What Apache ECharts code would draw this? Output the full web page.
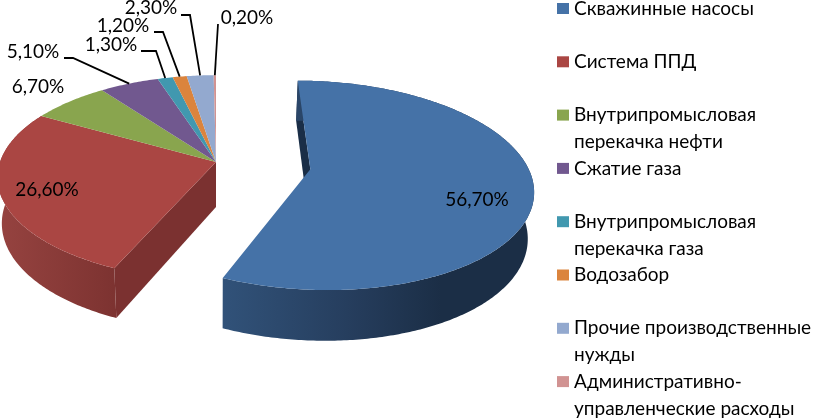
<!DOCTYPE html>
<html><head><meta charset="utf-8">
<style>html,body{margin:0;padding:0;background:#fff}#c{width:816px;height:418px}</style>
<script src="https://cdn.jsdelivr.net/npm/echarts@6/dist/echarts.min.js"></script>
</head><body><div id="c"></div>
<script>
const categories = ['Скважинные насосы','Система ППД','Внутрипромысловая\nперекачка нефти','Сжатие газа','Внутрипромысловая\nперекачка газа','Водозабор','Прочие производственные\nнужды','Административно-\nуправленческие расходы'];
const values = [56.7,26.6,6.7,5.1,1.3,1.2,2.3,0.2];
const colors = ['#4572A7','#AA4643','#89A54E','#71588F','#4198AF','#DB843D','#93A9CF','#D19392'];
const wallStops = [
  [{offset:0,color:'#315279'},{offset:0.4,color:'#263e5e'},{offset:0.7,color:'#1b2e46'},{offset:1,color:'#1b2e46'}],
  [{offset:0,color:'#964340'},{offset:1,color:'#7d3331'}]
];
const sideColors = ['#1a2e47','#7b3130'];
// label placement (text centre, then optional leader elbow and start)
const labelPos = [
  {x:477,y:200},{x:47,y:190},{x:38,y:87},
  {x:33,y:52,lead:[[64,58],[73,58]]},
  {x:111,y:45,lead:[[141,51],[156,51]]},
  {x:123,y:26,lead:[[154,32],[163,32]]},
  {x:151,y:8,lead:[[181,15],[190,15]]},
  {x:247,y:18,lead:[[218,24]]}
];
const FONT = 'Lato, "Noto Sans", sans-serif';
const cx=216, cy=162, Rx=216, Ry=100, k=0.152;
const total = values.reduce((a,b)=>a+b,0);
const explode = [[0.432,-0.072]];
function upper(u,v){const w=1+k*v;return [cx+Rx*u/w, cy-Ry*v/w, w];}
function lower(u,v){const p=upper(u,v);return [cx+(p[0]-cx)*0.98, p[1]+45+(1-p[2])*35];}
function pt(th,r,e){return [r*Math.sin(th)+e[0], r*Math.cos(th)+e[1]];}
function sliceStart(i){
  let s=0;for(let j=0;j<i;j++)s+=values[j];
  return s/total*2*Math.PI;
}
function makeRender(i){
  return function(params,api){
    const val=api.value(0), a0=sliceStart(i), a1=a0+val/total*2*Math.PI;
    const e=explode[i]||[0,0];
    const N=Math.max(4,Math.ceil((a1-a0)/0.012));
    const arcT=[],arcB=[];
    for(let n=0;n<=N;n++){
      const th=a0+(a1-a0)*n/N,q=pt(th,1,e);
      arcT.push(upper(q[0],q[1]).slice(0,2));arcB.push(lower(q[0],q[1]));
    }
    const ap=upper(e[0],e[1]).slice(0,2), apB=lower(e[0],e[1]);
    const mid=(a0+a1)/2;
    const children=[];
    if(Math.cos(mid)<0.2){
      const minX=Math.min(...arcT.map(p=>p[0])),maxX=Math.max(...arcT.map(p=>p[0]));
      children.push({type:'polygon',shape:{points:[ap,arcT[0],arcB[0],apB]},style:{fill:sideColors[i]}});
      children.push({type:'polygon',shape:{points:arcT.concat(arcB.slice().reverse())},
        style:{fill:new echarts.graphic.LinearGradient(minX,0,maxX,0,wallStops[i],true)}});
    }
    children.push({type:'polygon',shape:{points:[ap].concat(arcT)},style:{fill:api.visual('color')}});
    const lp=labelPos[i];
    if(lp.lead){
      const q=pt(mid,1,e),end=upper(q[0],q[1]).slice(0,2);
      children.push({type:'polyline',shape:{points:lp.lead.concat([end])},style:{stroke:'#000',lineWidth:1.8,fill:'none'},z2:50});
    }
    children.push({type:'text',x:lp.x,y:lp.y,z2:60,style:{text:val.toFixed(2).replace('.',',')+'%',fill:'#000',font:'19px '+FONT,align:'center',verticalAlign:'middle'}});
    return {type:'group',children:children};
  };
}
const LH=26.8;
const chart=echarts.init(document.getElementById('c'),null,{renderer:'canvas'});
chart.setOption({
  animation:false,
  backgroundColor:'#fff',
  color:colors,
  legend:{
    orient:'vertical',left:557,top:8.5-LH*1.5,height:640,padding:0,
    itemWidth:12,itemHeight:11,itemGap:-27.1,selectedMode:false,
    icon:'rect',
    data:categories,
    formatter:function(n){return '\n'+(n.indexOf('\n')>=0?n:n+'\n ');},
    textStyle:{fontFamily:FONT,fontSize:19,color:'#000',lineHeight:LH}
  },
  series:categories.map((name,i)=>({
    type:'custom',name:name,coordinateSystem:'none',silent:true,
    data:[[values[i]]],renderItem:makeRender(i),z:i===0?3:2
  }))
});
</script></body></html>
